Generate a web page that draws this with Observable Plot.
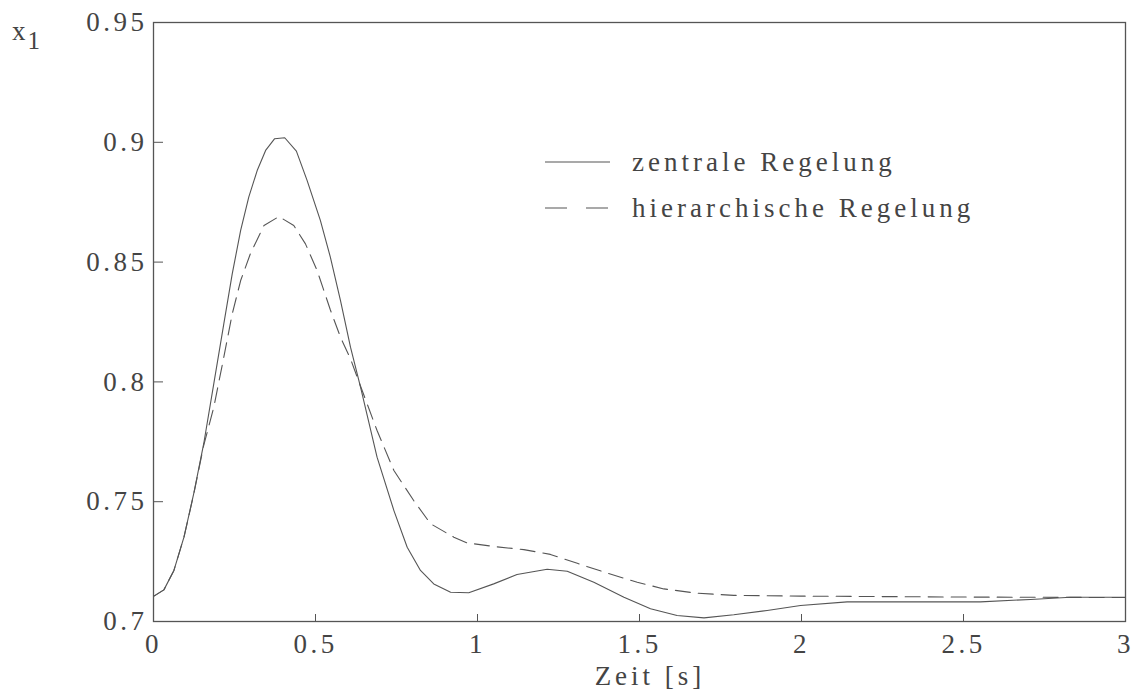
<!DOCTYPE html>
<html>
<head>
<meta charset="utf-8">
<script src="https://cdn.jsdelivr.net/npm/d3@7"></script>
<script src="https://cdn.jsdelivr.net/npm/@observablehq/plot@0.6"></script>
<style>
  html, body { margin: 0; padding: 0; background: #fff; }
  #chart { width: 1136px; height: 698px; }
  #chart svg text { font-family: "Liberation Serif", "Times New Roman", serif !important; }
</style>
</head>
<body>
<div id="chart"></div>
<script>
// ---- Data ----
const seriesNames = ["zentrale Regelung", "hierarchische Regelung"];

const tZentral = [0, 0.032, 0.063, 0.094, 0.124, 0.155, 0.186, 0.217, 0.243, 0.269, 0.294, 0.320, 0.346, 0.374, 0.405, 0.441, 0.474, 0.515, 0.546, 0.577, 0.608, 0.639, 0.690, 0.742, 0.783, 0.824, 0.865, 0.917, 0.973, 1.050, 1.122, 1.215, 1.277, 1.359, 1.452, 1.534, 1.616, 1.699, 1.791, 1.894, 1.997, 2.141, 2.552, 2.707, 2.830, 3.0];
const xZentral = [0.7105, 0.7132, 0.7213, 0.7352, 0.7533, 0.7742, 0.7992, 0.8242, 0.8451, 0.8632, 0.8771, 0.8882, 0.8966, 0.9015, 0.9019, 0.8963, 0.8841, 0.8674, 0.8520, 0.8340, 0.8145, 0.7978, 0.7686, 0.7463, 0.7310, 0.7213, 0.7157, 0.7122, 0.7120, 0.7157, 0.7196, 0.7218, 0.7210, 0.7164, 0.7101, 0.7053, 0.7025, 0.7015, 0.7028, 0.7046, 0.7067, 0.7082, 0.7082, 0.7092, 0.7101, 0.7101];

const tHier = [0, 0.032, 0.063, 0.094, 0.124, 0.155, 0.186, 0.217, 0.243, 0.269, 0.299, 0.341, 0.387, 0.433, 0.469, 0.505, 0.546, 0.577, 0.608, 0.644, 0.690, 0.742, 0.803, 0.855, 0.927, 0.968, 1.050, 1.143, 1.225, 1.308, 1.400, 1.493, 1.575, 1.678, 1.791, 1.997, 2.500, 3.0];
const xHier = [0.7105, 0.7132, 0.7213, 0.7352, 0.7530, 0.7735, 0.7894, 0.8103, 0.8284, 0.8423, 0.8535, 0.8653, 0.8690, 0.8653, 0.8576, 0.8465, 0.8300, 0.8187, 0.8096, 0.7964, 0.7797, 0.7630, 0.7505, 0.7408, 0.7352, 0.7328, 0.7313, 0.7300, 0.7280, 0.7243, 0.7202, 0.7164, 0.7136, 0.7118, 0.7109, 0.7106, 0.7102, 0.7100];

const xTicks = [0, 0.5, 1, 1.5, 2, 2.5, 3];
const yTicks = [0.7, 0.75, 0.8, 0.85, 0.9, 0.95];
const xLabel = "Zeit [s]";
const yLabelMain = "x";
const yLabelSub = "1";

// ---- Build tables ----
const zentral = tZentral.map((t, i) => ({t, v: xZentral[i]}));
const hier = tHier.map((t, i) => ({t, v: xHier[i]}));

const FONT = "'Liberation Serif', 'Times New Roman', serif";
const INK = "#555";
const TXT = "#444";

const chart = Plot.plot({
  width: 1136,
  height: 698,
  marginLeft: 153,
  marginRight: 11,
  marginTop: 22,
  marginBottom: 77,
  x: {domain: [0, 3]},
  y: {domain: [0.7, 0.95]},
  style: {fontFamily: FONT, fontSize: "27px", color: TXT, background: "#fff", overflow: "visible"},
  marks: [
    Plot.axisX({ticks: xTicks, tickSize: -7, fill: "none", stroke: INK, label: null}),
    Plot.axisX({ticks: xTicks, tickSize: 0, tickPadding: 12, tickFormat: d => String(d), fill: TXT, label: null}),
    Plot.axisY({ticks: yTicks, tickSize: -10, fill: "none", stroke: INK, label: null}),
    Plot.axisY({ticks: yTicks, tickSize: 0, tickPadding: 6, tickFormat: d => String(d), fill: TXT, label: null}),
    Plot.line(zentral, {x: "t", y: "v", stroke: INK, strokeWidth: 1.1}),
    Plot.line(hier, {x: "t", y: "v", stroke: INK, strokeWidth: 1.1, strokeDasharray: "15,8"}),
    Plot.frame({stroke: INK, strokeWidth: 1.3})
  ]
});

const svg = d3.select(chart);
svg.selectAll("text").attr("letter-spacing", "3.5px");

// y-axis label with subscript
const yl = svg.append("text")
  .attr("x", 12).attr("y", 40)
  .attr("text-anchor", "start")
  .attr("font-size", 27)
  .attr("fill", TXT).attr("letter-spacing", "2px");
yl.append("tspan").text(yLabelMain);
yl.append("tspan").attr("dy", 9).attr("font-size", 25).text(yLabelSub);

// x-axis label
svg.append("text")
  .attr("x", 650).attr("y", 685)
  .attr("text-anchor", "middle")
  .attr("font-size", 27)
  .attr("fill", TXT).attr("letter-spacing", "4px")
  .text(xLabel);

// legend
const legend = svg.append("g");
const dashes = [null, "22,19"];
const lineY = [162, 208];
seriesNames.forEach((name, i) => {
  legend.append("line")
    .attr("x1", 545).attr("x2", 610)
    .attr("y1", lineY[i]).attr("y2", lineY[i])
    .attr("stroke", INK).attr("stroke-width", 1.1)
    .attr("stroke-dasharray", dashes[i]);
  legend.append("text")
    .attr("x", 632).attr("y", lineY[i] + 9)
    .attr("text-anchor", "start")
    .attr("font-size", 27)
    .attr("fill", TXT).attr("letter-spacing", "4px")
    .text(name);
});

document.getElementById("chart").appendChild(chart);
</script>
</body>
</html>
